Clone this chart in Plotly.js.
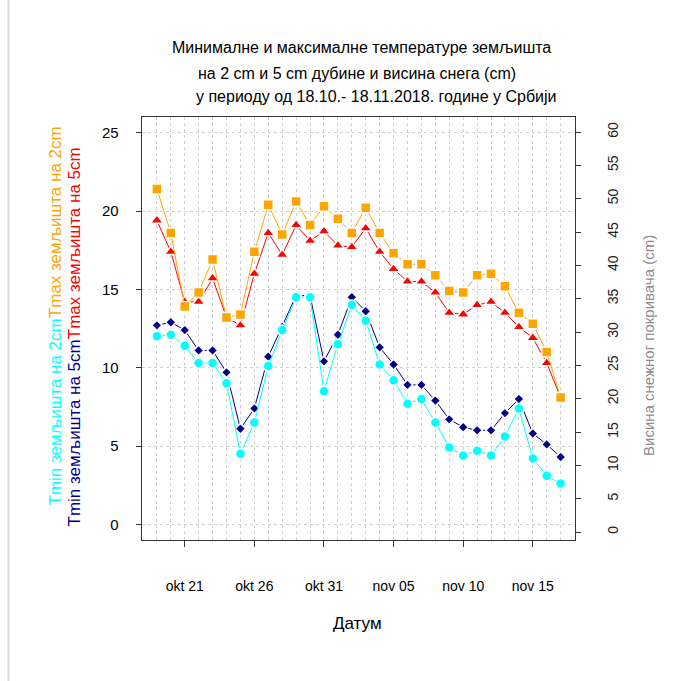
<!DOCTYPE html>
<html>
<head>
<meta charset="utf-8">
<script src="https://cdn.plot.ly/plotly-3.0.1.min.js"></script>
<style>
html,body{margin:0;padding:0;background:#fff;}
#chart{width:695px;height:681px;}
</style>
</head>
<body>
<div id="chart"></div>
<script>
// ---- data ----
var dates = ['2018-10-19','2018-10-20','2018-10-21','2018-10-22','2018-10-23','2018-10-24','2018-10-25','2018-10-26','2018-10-27','2018-10-28',
             '2018-10-29','2018-10-30','2018-10-31','2018-11-01','2018-11-02','2018-11-03','2018-11-04','2018-11-05','2018-11-06','2018-11-07',
             '2018-11-08','2018-11-09','2018-11-10','2018-11-11','2018-11-12','2018-11-13','2018-11-14','2018-11-15','2018-11-16','2018-11-17'];
var tmax2 = [21.4, 18.6, 13.9, 14.8, 16.9, 13.2, 13.4, 17.4, 20.4, 18.5, 20.6, 19.1, 20.3, 19.5, 18.6, 20.2, 18.6, 17.3, 16.6, 16.6, 15.9, 14.9, 14.8, 15.9, 16.0, 15.2, 13.5, 12.8, 11.0, 8.1];
var tmax5 = [19.4, 17.4, 14.2, 14.2, 15.7, 13.2, 12.7, 16.0, 18.6, 17.2, 19.1, 18.1, 18.7, 17.8, 17.7, 18.9, 17.4, 16.3, 15.5, 15.5, 14.8, 13.5, 13.4, 14.0, 14.2, 13.5, 12.6, 11.9, 10.3, 8.1];
var tmin2 = [12.0, 12.1, 11.4, 10.3, 10.3, 9.0, 4.5, 6.5, 10.1, 12.4, 14.5, 14.5, 8.5, 11.5, 14.0, 13.0, 10.2, 9.2, 7.7, 8.0, 6.5, 4.9, 4.4, 4.7, 4.4, 5.6, 7.4, 4.2, 3.1, 2.6];
var tmin5 = [12.7, 12.9, 12.4, 11.1, 11.1, 9.7, 6.1, 7.4, 10.7, 12.6, 14.6, 14.6, 10.4, 12.1, 14.5, 13.6, 11.3, 10.2, 8.9, 8.9, 7.9, 6.7, 6.2, 6.0, 6.0, 7.1, 8.0, 5.8, 5.1, 4.3];
var snow = []; // no snow cover recorded in the period
var xTickVals = ['2018-10-21','2018-10-26','2018-10-31','2018-11-05','2018-11-10','2018-11-15'];
var xTickText = ['okt 21','okt 26','okt 31','nov 05','nov 10','nov 15'];
var yTickVals = [0, 5, 10, 15, 20, 25];
var y2TickVals = [0, 5, 10, 15, 20, 25, 30, 35, 40, 45, 50, 55, 60];
var titleLines = ['Минималне и максималне температуре земљишта',
                  'на 2 cm и 5 cm дубине и висина снега (cm)',
                  'у периоду од 18.10.- 18.11.2018. године у Србији'];

var FONT = '"Liberation Sans", Arial, sans-serif';

function series(y, color, symbol, size) {
  return {
    x: dates, y: y, type: 'scatter', mode: 'lines+markers',
    line: {color: color, width: 1},
    marker: {color: color, symbol: symbol, size: size, line: {color: '#ffffff', width: 1.5}},
    hoverinfo: 'x+y'
  };
}

var traces = [
  series(tmin5, '#00008B', 'diamond', 8),
  series(tmin2, '#00FFFF', 'circle', 10),
  series(tmax5, '#FF0000', 'triangle-up', 11),
  series(tmax2, '#FFA500', 'square', 10),
  {x: dates.slice(0, snow.length), y: snow, type: 'scatter', mode: 'lines',
   line: {color: '#888888'}, yaxis: 'y2', hoverinfo: 'skip'}
];

var L = 142, R = 120, T = 117, B = 141, W = 695, H = 681;
var pw = W - L - R, ph = H - T - B;
function px(x) { return (x - L) / pw; }
function py(y) { return (H - B - y) / ph; }

var annotations = [
  {text: titleLines[0], x: px(361.5), y: py(47)},
  {text: titleLines[1], x: px(357), y: py(74)},
  {text: titleLines[2], x: px(376.5), y: py(97)}
].map(function(a){
  return {text: a.text, x: a.x, y: a.y, xref: 'paper', yref: 'paper', showarrow: false,
          xanchor: 'center', yanchor: 'middle', font: {family: FONT, size: 16, color: '#000'}};
});
annotations.push({
  text: '<span style="color:#00FFFF">Tmin земљишта на 2cm</span><span style="color:#FFA500">Tmax земљишта на 2cm</span>',
  x: px(55), y: py(316.5), xref: 'paper', yref: 'paper', showarrow: false, textangle: -90,
  xanchor: 'center', yanchor: 'middle', font: {family: FONT, size: 17}
});
annotations.push({
  text: '<span style="color:#00008B">Tmin земљишта на 5cm</span><span style="color:#FF0000">Tmax земљишта на 5cm</span>',
  x: px(74), y: py(337.5), xref: 'paper', yref: 'paper', showarrow: false, textangle: -90,
  xanchor: 'center', yanchor: 'middle', font: {family: FONT, size: 17}
});
annotations.push({
  text: 'Висина снежног покривача (cm)',
  x: px(648), y: py(346), xref: 'paper', yref: 'paper', showarrow: false, textangle: -90,
  xanchor: 'center', yanchor: 'middle', font: {family: FONT, size: 15, color: '#8c8c8c'}
});
annotations.push({
  text: 'Датум',
  x: px(357), y: py(623), xref: 'paper', yref: 'paper', showarrow: false,
  xanchor: 'center', yanchor: 'middle', font: {family: FONT, size: 17, color: '#000'}
});

var layout = {
  width: W, height: H,
  margin: {l: L, r: R, t: T, b: B, pad: 0},
  paper_bgcolor: '#ffffff', plot_bgcolor: '#ffffff',
  showlegend: false,
  font: {family: FONT, size: 14, color: '#000'},
  xaxis: {
    type: 'date',
    range: ['2018-10-17 22:20', '2018-11-18 00:45'],
    tickmode: 'array', tickvals: xTickVals, ticktext: xTickText,
    ticks: 'outside', ticklen: 6, tickwidth: 1, tickcolor: '#333',
    ticklabelstandoff: 27,
    tickfont: {family: FONT, size: 14, color: '#000'},
    showline: true, linecolor: '#333', linewidth: 1.3, mirror: true,
    showgrid: true, gridcolor: '#d0d0d0', griddash: 'dot', gridwidth: 1,
    minor: {dtick: 86400000, tick0: '2018-10-19', showgrid: true, gridcolor: '#d0d0d0', griddash: 'dot', gridwidth: 1, ticklen: 0},
    zeroline: false, fixedrange: true
  },
  yaxis: {
    range: [-1, 26],
    tickmode: 'array', tickvals: yTickVals,
    ticks: 'outside', ticklen: 5, tickwidth: 1, tickcolor: '#333',
    ticklabelstandoff: 14,
    tickfont: {family: FONT, size: 15, color: '#000'},
    showline: true, linecolor: '#333', linewidth: 1.3, mirror: true,
    showgrid: true, gridcolor: '#d0d0d0', griddash: 'dot', gridwidth: 1,
    zeroline: false, fixedrange: true
  },
  yaxis2: {
    overlaying: 'y', side: 'right',
    range: [-1.2, 62.25],
    tickmode: 'array', tickvals: y2TickVals,
    tickangle: -90,
    ticks: 'outside', ticklen: 5, tickwidth: 1, tickcolor: '#333',
    ticklabelstandoff: 20,
    tickfont: {family: FONT, size: 14, color: '#222'},
    showline: false, showgrid: false, zeroline: false, fixedrange: true
  },
  shapes: [
    {type: 'line', xref: 'paper', yref: 'paper', x0: px(8.5), x1: px(8.5), y0: py(0), y1: py(681),
     line: {color: '#d9d9d9', width: 2}}
  ],
  annotations: annotations
};

Plotly.newPlot('chart', traces, layout, {displayModeBar: false, staticPlot: true});
</script>
</body>
</html>
